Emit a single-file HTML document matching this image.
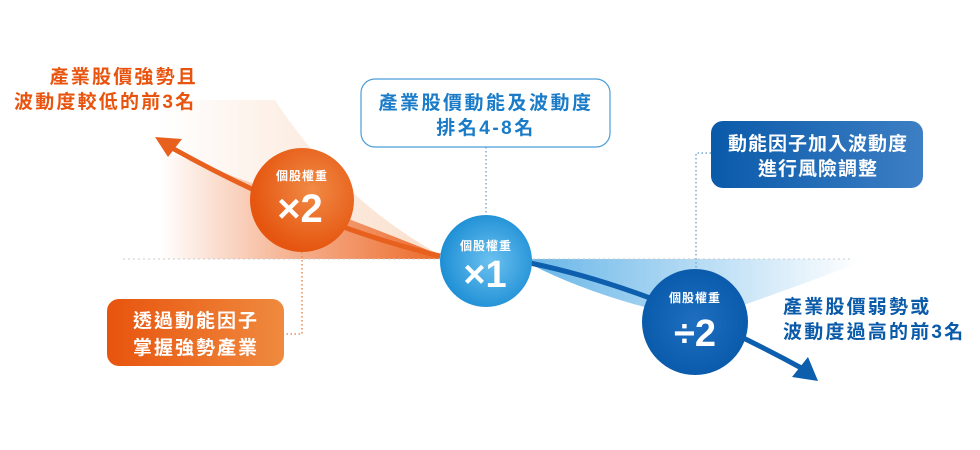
<!DOCTYPE html>
<html><head><meta charset="utf-8"><style>
html,body{margin:0;padding:0;background:#fff;}
svg{display:block;font-family:"Liberation Sans","Noto Sans CJK TC",sans-serif;font-weight:bold;}
</style></head><body>
<svg width="980" height="450" viewBox="0 0 980 450" xmlns="http://www.w3.org/2000/svg">
<defs>
<linearGradient id="mh" x1="160" y1="0" x2="440" y2="0" gradientUnits="userSpaceOnUse">
<stop offset="0" stop-color="#fff" stop-opacity="0"/>
<stop offset="0.45" stop-color="#fff" stop-opacity="0.5"/>
<stop offset="1" stop-color="#fff" stop-opacity="1"/>
</linearGradient>
<mask id="om"><rect x="0" y="0" width="980" height="450" fill="url(#mh)"/></mask>
<linearGradient id="mb" x1="530" y1="0" x2="860" y2="0" gradientUnits="userSpaceOnUse">
<stop offset="0" stop-color="#fff" stop-opacity="1"/>
<stop offset="1" stop-color="#fff" stop-opacity="0"/>
</linearGradient>
<mask id="bm"><rect x="0" y="0" width="980" height="450" fill="url(#mb)"/></mask>
<radialGradient id="c2" cx="0.6" cy="0.4" r="0.6">
<stop offset="0" stop-color="#f08a45"/><stop offset="1" stop-color="#e5550f"/>
</radialGradient>
<radialGradient id="c1" cx="0.55" cy="0.5" r="0.6">
<stop offset="0" stop-color="#6cc1f0"/><stop offset="1" stop-color="#168ad2"/>
</radialGradient>
<radialGradient id="c3" cx="0.5" cy="0.5" r="0.6">
<stop offset="0" stop-color="#1e6fc0"/><stop offset="1" stop-color="#0757a8"/>
</radialGradient>
<linearGradient id="bbox" x1="0" y1="0" x2="1" y2="0">
<stop offset="0" stop-color="#0a5aaa"/><stop offset="1" stop-color="#3d7fc4"/>
</linearGradient>
<linearGradient id="obox" x1="0" y1="0" x2="1" y2="0">
<stop offset="0" stop-color="#e8540e"/><stop offset="1" stop-color="#ef8a3e"/>
</linearGradient>
</defs>

<g mask="url(#om)">
<path d="M160,259 L160,100 Q230,100 275,100 Q340,200 440,255 L440,259 Z" fill="#f7c9aa" opacity="0.6"/>
<path d="M160,259 L160,150 Q330,210 440,255 L440,259 Z" fill="#ec6a2a"/>
</g>
<g mask="url(#bm)">
<path d="M530,259 L870,259 Q760,300 700,320 Q600,300 530,264 Z" fill="#59aee5" opacity="0.9"/>
</g>

<line x1="123" y1="259" x2="850" y2="259" stroke="#c8ccd0" stroke-width="1" stroke-dasharray="2,3"/>

<path d="M440,256 Q310,225 172,148" fill="none" stroke="#e8601e" stroke-width="5"/>
<polygon points="155,137 182,139 168,157" fill="#e8601e"/>
<path d="M530,263 Q660,290 805,370" fill="none" stroke="#0d5fae" stroke-width="5"/>
<polygon points="818,381 792,377 808,357" fill="#0d5fae"/>

<path d="M486,147 V214" stroke="#7aaad6" stroke-width="1.5" stroke-dasharray="1.5,2.5" fill="none"/>
<path d="M711,153 H696 V269" stroke="#7aaad6" stroke-width="1.5" stroke-dasharray="1.5,2.5" fill="none"/>
<path d="M302,252 V334 H284" stroke="#ef8a4e" stroke-width="1.5" stroke-dasharray="1.5,2.5" fill="none"/>

<circle cx="302" cy="200" r="52" fill="url(#c2)"/>
<text x="302" y="180" fill="#fff" font-size="12" text-anchor="middle" letter-spacing="1">個股權重</text>
<text x="300" y="222" fill="#fff" font-size="40" text-anchor="middle">×2</text>

<circle cx="486" cy="261" r="46" fill="url(#c1)"/>
<text x="486" y="250" fill="#fff" font-size="12" text-anchor="middle" letter-spacing="1">個股權重</text>
<text x="485" y="287" fill="#fff" font-size="38" text-anchor="middle">×1</text>

<circle cx="695" cy="322" r="53" fill="url(#c3)"/>
<text x="695" y="302" fill="#fff" font-size="12" text-anchor="middle" letter-spacing="1">個股權重</text>
<text x="695" y="346" fill="#fff" font-size="38" text-anchor="middle">÷2</text>

<rect x="361" y="79" width="249" height="68" rx="14" fill="#fff" stroke="#4a9ed8" stroke-width="1.2"/>
<text x="486" y="109" fill="#1a7cc8" font-size="19" text-anchor="middle" letter-spacing="2.5">產業股價動能及波動度</text>
<text x="486" y="134" fill="#1a7cc8" font-size="19" text-anchor="middle" letter-spacing="2.5">排名4-8名</text>

<rect x="711" y="121" width="212" height="67" rx="12" fill="url(#bbox)"/>
<text x="818" y="150" fill="#fff" font-size="19" text-anchor="middle" letter-spacing="1">動能因子加入波動度</text>
<text x="818" y="175" fill="#fff" font-size="19" text-anchor="middle" letter-spacing="1">進行風險調整</text>

<rect x="107" y="299" width="177" height="67" rx="12" fill="url(#obox)"/>
<text x="196" y="327" fill="#fff" font-size="19" text-anchor="middle" letter-spacing="2">透過動能因子</text>
<text x="196" y="354" fill="#fff" font-size="19" text-anchor="middle" letter-spacing="2">掌握強勢產業</text>

<text x="198" y="83" fill="#e8540e" font-size="19" text-anchor="end" letter-spacing="2.2">產業股價強勢且</text>
<text x="14" y="108" fill="#e8540e" font-size="19" letter-spacing="2.2">波動度較低的前3名</text>
<text x="783" y="313" fill="#0a5aaa" font-size="19" letter-spacing="2.2">產業股價弱勢或</text>
<text x="783" y="338" fill="#0a5aaa" font-size="19" letter-spacing="2.2">波動度過高的前3名</text>
</svg>
</body></html>
